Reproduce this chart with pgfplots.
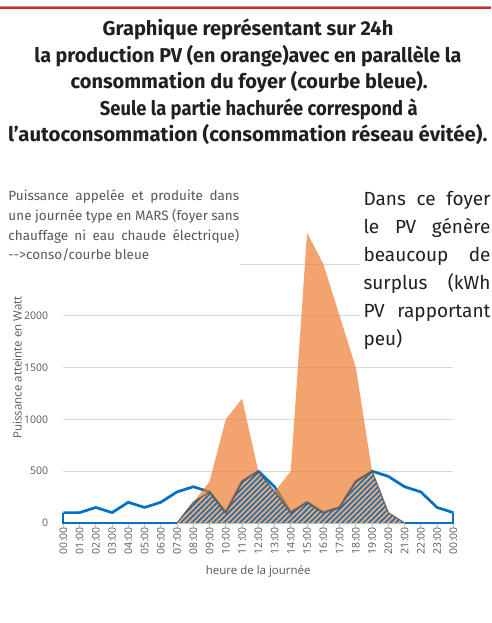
\documentclass[border=0pt]{standalone}
\usepackage{fontspec}
\usepackage{graphicx}
\usepackage{pgfplots}
\pgfplotsset{compat=1.18}
\usetikzlibrary{patterns.meta}
\usepackage{pgfplotstable}
\setmainfont{Fira Sans}
\newfontfamily\axisfont{Open Sans}
\definecolor{blueC}{RGB}{0,112,192}
\definecolor{orangeC}{RGB}{237,125,49}
\definecolor{txtgray}{RGB}{89,89,89}
\definecolor{gridgray}{RGB}{217,217,217}
\definecolor{tickgray}{RGB}{191,191,191}
\definecolor{titleC}{RGB}{35,31,32}
\definecolor{redbar}{RGB}{200,45,35}
\definecolor{bordergray}{RGB}{90,90,90}

\pgfplotstableread{
h v
0 100
1 100
2 150
3 100
4 200
5 150
6 200
7 300
8 350
9 300
10 100
11 400
12 500
13 350
14 100
15 200
16 100
17 150
18 400
19 500
20 450
21 350
22 300
23 150
24 100
}\tabcons

\pgfplotstableread{
h v
0 0
1 0
2 0
3 0
4 0
5 0
6 0
7 0
8 200
9 400
10 1000
11 1200
12 500
13 300
14 500
15 2800
16 2500
17 2000
18 1500
19 500
20 100
21 0
22 0
23 0
24 0
}\tabpv

\pgfplotstableread{
h v
7 0
8 200
9 300
10 100
11 400
12 500
13 300
14 100
15 200
16 100
17 150
18 400
19 500
20 100
21 0
}\tabauto

\begin{document}
\begin{tikzpicture}
\useasboundingbox (0pt,0pt) rectangle (491pt,623pt);
\fill[white] (0pt,0pt) rectangle (491pt,623pt);
\fill[redbar] (0pt,613.7pt) rectangle (491pt,616.3pt);
\draw[redbar!55, line width=0.6pt] (0pt,617pt) -- (491pt,617pt);

\begin{axis}[
  at={(63.3pt,100pt)}, anchor=south west, scale only axis,
  width=390pt, height=290.2pt,
  xmin=0, xmax=24, ymin=0, ymax=2800, clip=false,
  axis x line*=bottom, axis y line*=left,
  y axis line style={draw=none},
  x axis line style={-, draw=tickgray, line width=0.75pt},
  ytick={0,500,...,2000}, ymajorgrids, grid style={gridgray, line width=0.75pt},
  extra y ticks={2500}, extra y tick labels={},
  extra y tick style={grid=major, ytick style={draw=none}},
  xtick={0,...,24},
  xticklabels={00:00,01:00,02:00,03:00,04:00,05:00,06:00,07:00,08:00,09:00,10:00,11:00,12:00,13:00,14:00,15:00,16:00,17:00,18:00,19:00,20:00,21:00,22:00,23:00,00:00},
  tick align=outside, major tick length=4pt,
  xtick style={draw=tickgray, line width=0.75pt}, ytick style={draw=none},
  tick label style={font=\axisfont\fontsize{10.5}{12}\selectfont, text=txtgray},
  /pgf/number format/assume math mode=true, /pgf/number format/1000 sep={},
  xticklabel style={rotate=90, anchor=east, inner sep=0pt},
  yticklabel style={anchor=east, inner sep=0pt, xshift=-11pt},
]
\addplot[draw=blueC, line width=1.8pt] coordinates {(0,100)(0,0)(7,0)};
\addplot[draw=blueC, line width=1.8pt] coordinates {(21,0)(24,0)(24,100)};
\addplot[draw=blueC, line width=2.7pt, line join=round] table[x=h,y=v]{\tabcons};
\addplot[draw=none, fill=orangeC, fill opacity=0.7] table[x=h,y=v]{\tabpv} \closedcycle;
\addplot[draw=none, pattern={Lines[angle=45,distance=3.8pt,line width=1.5pt]}, pattern color=blueC] table[x=h,y=v]{\tabauto} \closedcycle;
\addplot[draw=bordergray, draw opacity=0.8, line width=1.3pt, line join=round] table[x=h,y=v]{\tabauto};
\end{axis}

\node[rotate=90, anchor=base, inner sep=0pt, text=txtgray, font=\axisfont\fontsize{11.5}{13}\selectfont] at (21.7pt,255.5pt) {Puissance atteinte en Watt};
\node[anchor=base, inner sep=0pt, text=txtgray, font=\axisfont\fontsize{11.5}{13}\selectfont] at (258.2pt,48pt) {heure de la journée};

% text boxes
\fill[white] (0pt,355pt) rectangle (240pt,443pt);
\fill[white] (360pt,268pt) rectangle (491pt,438pt);

\begin{scope}[every node/.style={anchor=base west, inner sep=0pt, text=txtgray, font=\fontsize{13.5}{16}\selectfont}]
\node at (8.3pt,422.3pt) {\makebox[230.7pt][s]{Puissance appelée et produite dans}};
\node at (8.3pt,402.5pt) {\makebox[230.7pt][s]{une journée type en MARS (foyer sans}};
\node at (8.3pt,382.7pt) {\makebox[230.7pt][s]{chauffage ni eau chaude électrique)}};
\node at (8.3pt,363pt) {-{}-{}>conso/courbe bleue};
\end{scope}

\begin{scope}[every node/.style={anchor=base west, inner sep=0pt, text=titleC, font=\fontsize{19}{22}\selectfont}]
\node at (363.3pt,417pt) {\makebox[127pt][s]{Dans ce foyer}};
\node at (363.3pt,389pt) {\makebox[127pt][s]{le PV génère}};
\node at (363.3pt,361pt) {\makebox[127pt][s]{beaucoup de}};
\node at (363.3pt,333pt) {\makebox[127pt][s]{surplus (kWh}};
\node at (363.3pt,305pt) {\makebox[127pt][s]{PV rapportant}};
\node at (363.3pt,277pt) {peu)};
\end{scope}

\begin{scope}[every node/.style={anchor=base, inner sep=0pt, text=titleC}]
\node at (248pt,587pt) {\resizebox{290.6pt}{\height}{\bfseries\fontsize{20}{24}\selectfont Graphique représentant sur 24h}};
\node at (248pt,560.5pt) {\resizebox{427pt}{\height}{\bfseries\fontsize{20}{24}\selectfont la production PV (en orange)avec en parallèle la}};
\node at (249.2pt,534pt) {\resizebox{357pt}{\height}{\bfseries\fontsize{20}{24}\selectfont consommation du foyer (courbe bleue).}};
\node at (258.8pt,507.5pt) {\resizebox{317.7pt}{\height}{\bfseries\fontsize{20}{24}\selectfont Seule la partie hachurée correspond à}};
\node at (247.7pt,481pt) {\resizebox{479.3pt}{\height}{\bfseries\fontsize{20}{24}\selectfont l’autoconsommation (consommation réseau évitée).}};
\end{scope}
\end{tikzpicture}
\end{document}
